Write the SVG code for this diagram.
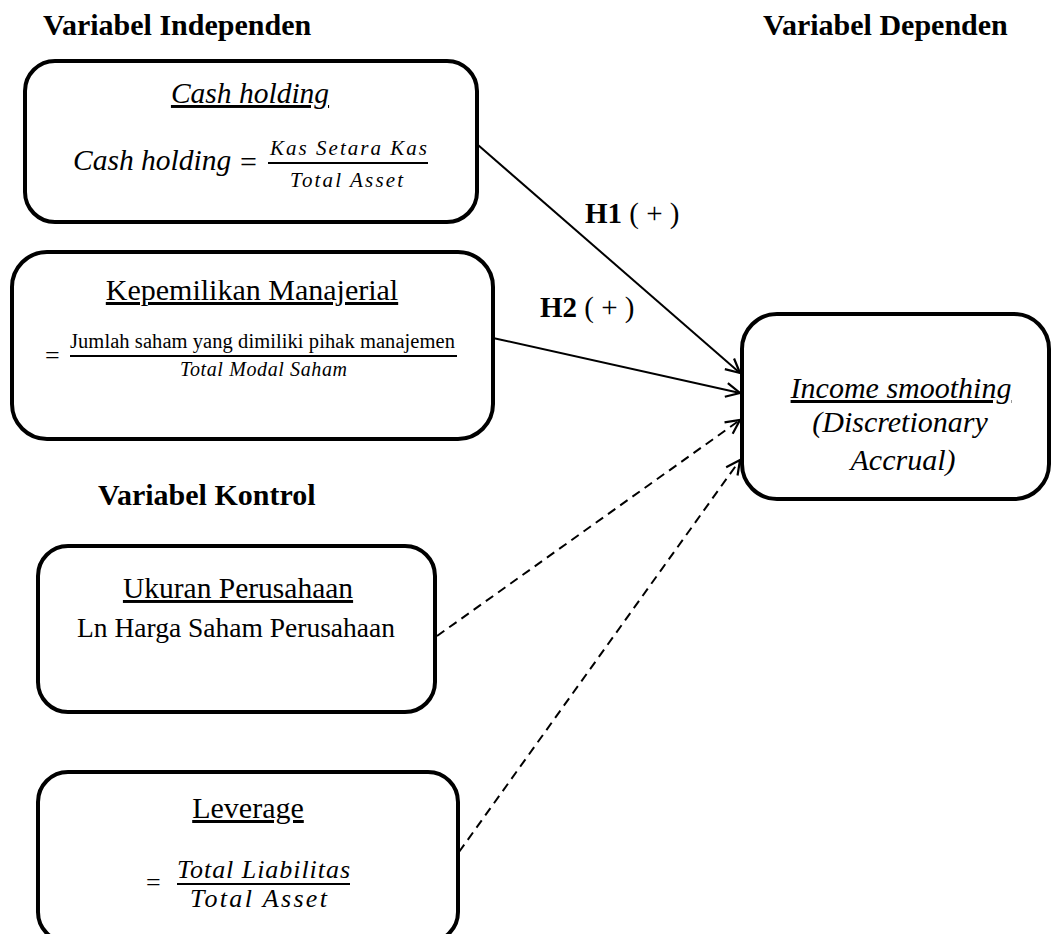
<svg xmlns="http://www.w3.org/2000/svg" width="1052" height="934" viewBox="0 0 1052 934">
<defs>
<style>
.box{fill:#fff;stroke:#000;stroke-width:4}
.t{font-family:"Liberation Serif","Times New Roman",serif;fill:#000}
.h{font-weight:bold;font-size:30px}
.it{font-style:italic}
.u{text-decoration:underline}
.m{font-family:"Liberation Serif","Times New Roman",serif;font-style:italic;fill:#000}
.fl{stroke:#000;stroke-width:2}
.c{fill:none;stroke:#000;stroke-width:2}
.d{stroke-dasharray:9 6}
</style>
<marker id="arr" markerUnits="userSpaceOnUse" markerWidth="18" markerHeight="18" refX="15" refY="8" orient="auto">
<path d="M1,1 L15,8 L1,15" fill="none" stroke="#000" stroke-width="2.2"/>
</marker>
</defs>
<rect width="1052" height="934" fill="#fff"/>
<g id="headings">
<text class="t h" x="43" y="35">Variabel Independen</text>
<text class="t h" x="763" y="35">Variabel Dependen</text>
<text class="t h" x="98" y="505">Variabel Kontrol</text>
</g>
<g id="connectors">
<line class="c" x1="478" y1="145" x2="740" y2="373" marker-end="url(#arr)"/>
<line class="c" x1="493" y1="338" x2="740" y2="393" marker-end="url(#arr)"/>
<line class="c d" x1="437" y1="636" x2="740" y2="420" marker-end="url(#arr)"/>
<line class="c d" x1="459" y1="852" x2="740" y2="460" marker-end="url(#arr)"/>
<text class="t" x="585" y="223" font-size="29"><tspan font-weight="bold">H1</tspan> ( + )</text>
<text class="t" x="540" y="317" font-size="29"><tspan font-weight="bold">H2</tspan> ( + )</text>
</g>
<g id="cash-holding">
<rect class="box" x="25" y="61" width="452" height="161" rx="30"/>
<text class="t it u" x="250" y="103" font-size="29.5" text-anchor="middle">Cash holding</text>
<text class="t it" x="73" y="170" font-size="29.5">Cash holding</text>
<text class="t" x="240" y="172" font-size="30">=</text>
<text class="m" x="270" y="155" font-size="21" textLength="157">Kas Setara Kas</text>
<line class="fl" x1="268" y1="163" x2="428" y2="163"/>
<text class="m" x="290" y="187" font-size="21" textLength="113">Total Asset</text>
</g>
<g id="kepemilikan">
<rect class="box" x="12" y="252" width="481" height="187" rx="35"/>
<text class="t u" x="252" y="300" font-size="30" text-anchor="middle">Kepemilikan Manajerial</text>
<text class="t" x="45" y="364" font-size="26">=</text>
<text class="t" x="70" y="348" font-size="20.5" textLength="385">Jumlah saham yang dimiliki pihak manajemen</text>
<line class="fl" x1="70" y1="356" x2="457" y2="356"/>
<text class="m" x="180" y="376" font-size="20" textLength="167">Total Modal Saham</text>
</g>
<g id="income-smoothing">
<rect class="box" x="742" y="314" width="307" height="185" rx="35"/>
<text class="t it u" x="901" y="398" font-size="30" text-anchor="middle">Income smoothing</text>
<text class="t it" x="900" y="432" font-size="30" text-anchor="middle">(Discretionary</text>
<text class="t it" x="903" y="470" font-size="30" text-anchor="middle">Accrual)</text>
</g>
<g id="ukuran">
<rect class="box" x="38" y="546" width="397" height="166" rx="30"/>
<text class="t u" x="238" y="598" font-size="29.5" text-anchor="middle">Ukuran Perusahaan</text>
<text class="t" x="236" y="637" font-size="27.5" text-anchor="middle">Ln Harga Saham Perusahaan</text>
</g>
<g id="leverage">
<rect class="box" x="38" y="772" width="420" height="170" rx="30"/>
<text class="t u" x="248" y="818" font-size="30" text-anchor="middle">Leverage</text>
<text class="t" x="146" y="891" font-size="26">=</text>
<text class="m" x="177" y="878" font-size="26" textLength="173">Total Liabilitas</text>
<line class="fl" x1="177" y1="884" x2="350" y2="884"/>
<text class="m" x="190" y="907" font-size="26" textLength="137">Total Asset</text>
</g>
</svg>
